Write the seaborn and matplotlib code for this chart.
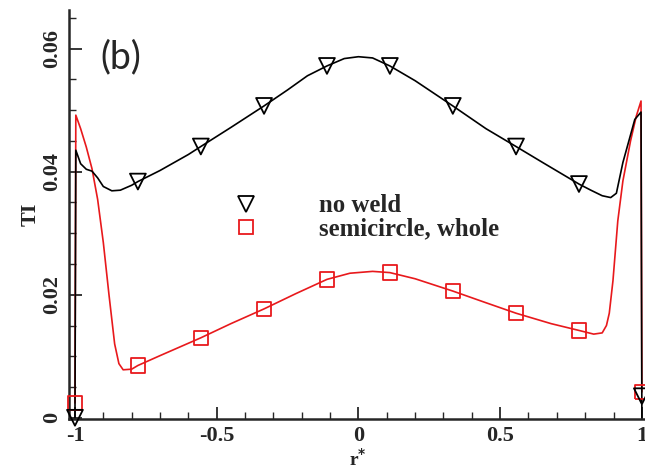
import matplotlib
matplotlib.use('Agg')
import matplotlib.pyplot as plt
from matplotlib.lines import Line2D
from matplotlib.ticker import MultipleLocator
import pandas as pd
import seaborn as sns

# curve
r_noweld = [-1.0, -0.997, -0.98, -0.96, -0.94, -0.92, -0.90, -0.87, -0.84, -0.80,
            -0.778, -0.70, -0.60, -0.556, -0.45, -0.333, -0.25, -0.18, -0.111, -0.05,
            0.0, 0.05, 0.111, 0.2, 0.333, 0.45, 0.556, 0.65, 0.778, 0.82,
            0.86, 0.89, 0.91, 0.933, 0.96, 0.975, 0.997, 1.0]
ti_noweld = [0.0, 0.0435, 0.0413, 0.0404, 0.0401, 0.0390, 0.0376, 0.0369, 0.0370, 0.0378,
             0.0384, 0.0402, 0.0428, 0.0441, 0.0472, 0.0507, 0.0533, 0.0556, 0.0572, 0.0584,
             0.0587, 0.0585, 0.0572, 0.0548, 0.0507, 0.0470, 0.0441, 0.0415, 0.0380, 0.0370,
             0.0361, 0.0358, 0.0365, 0.0415, 0.0460, 0.0485, 0.0497, 0.0]

r_semi = [-1.0, -0.997, -0.98, -0.96, -0.94, -0.92, -0.90, -0.88, -0.86, -0.845,
          -0.83, -0.80, -0.778, -0.70, -0.556, -0.45, -0.333, -0.22, -0.111, -0.03,
          0.05, 0.111, 0.2, 0.333, 0.45, 0.556, 0.68, 0.778, 0.83, 0.86,
          0.875, 0.885, 0.898, 0.915, 0.933, 0.96, 0.98, 0.997, 1.0]
ti_semi = [0.0024, 0.0492, 0.0470, 0.0440, 0.0405, 0.0355, 0.0285, 0.0200, 0.0120, 0.0088,
           0.0078, 0.0079, 0.0085, 0.0101, 0.0130, 0.0153, 0.0177, 0.0202, 0.0225, 0.0235,
           0.0238, 0.0236, 0.0226, 0.0206, 0.0187, 0.0170, 0.0153, 0.0142, 0.0136, 0.0138,
           0.0150, 0.0170, 0.0223, 0.0320, 0.0385, 0.0450, 0.0490, 0.0515, 0.0042]

# symbols
r_marks = [-1.0, -0.778, -0.556, -0.333, -0.111, 0.111, 0.333, 0.556, 0.778, 1.0]
ti_marks_noweld = [0.0, 0.0384, 0.0441, 0.0507, 0.0572, 0.0572, 0.0507, 0.0441, 0.0380, 0.0035]
ti_marks_semi = [0.0024, 0.0085, 0.0130, 0.0177, 0.0225, 0.0236, 0.0206, 0.0170, 0.0142, 0.0042]

labels = ['no weld', 'semicircle, whole']
colors = ['black', '#e8191c']

sns.set_style('ticks')
plt.rcParams['font.family'] = ['Liberation Serif', 'DejaVu Serif']
plt.rcParams['font.weight'] = 'bold'

fig = plt.figure(figsize=(6.45, 4.68), dpi=100)
ax = fig.add_axes([0.107, 0.1047, 0.893, 0.874])

semi = pd.DataFrame({'r': r_semi, 'TI': ti_semi})
noweld = pd.DataFrame({'r': r_noweld, 'TI': ti_noweld})
sns.lineplot(data=semi, x='r', y='TI', sort=False, estimator=None,
             color=colors[1], linewidth=1.2, ax=ax)
sns.lineplot(data=noweld, x='r', y='TI', sort=False, estimator=None,
             color=colors[0], linewidth=1.2, ax=ax)

sns.scatterplot(x=r_marks, y=ti_marks_semi, marker='s', s=110, facecolor='none',
                edgecolor=colors[1], linewidth=1.3, ax=ax, clip_on=False, zorder=5)
sns.scatterplot(x=r_marks, y=ti_marks_noweld, marker='v', s=130, facecolor='none',
                edgecolor=colors[0], linewidth=1.3, ax=ax, clip_on=False, zorder=5)

ax.set_xlim(-1.021, 1.011)
ax.set_ylim(-0.0002, 0.0663)
ax.xaxis.set_major_locator(MultipleLocator(0.5))
ax.xaxis.set_minor_locator(MultipleLocator(0.1))
ax.yaxis.set_major_locator(MultipleLocator(0.02))
ax.yaxis.set_minor_locator(MultipleLocator(0.005))
ax.set_xticks([-1, -0.5, 0, 0.5, 1])
ax.set_xticklabels(['-1', '-0.5', '0', '0.5', '1'])
ax.set_yticks([0, 0.02, 0.04, 0.06])
ax.set_yticklabels(['0', '0.02', '0.04', '0.06'], rotation=90, va='center')
ax.tick_params(which='major', direction='in', length=9, width=1.3, labelsize=16)
ax.tick_params(axis='x', which='major', pad=5)
ax.tick_params(axis='y', which='major', pad=5)
ax.tick_params(which='minor', direction='in', length=5, width=1.0)
for s in ['top', 'right']:
    ax.spines[s].set_visible(False)
for s in ['left', 'bottom']:
    ax.spines[s].set_linewidth(1.8)

ax.set_xlabel(r'r$^{*}$', fontsize=14, fontweight='bold')
ax.xaxis.set_label_coords(0.502, -0.071)
ax.set_ylabel('TI', fontsize=16, fontweight='bold')
ax.yaxis.set_label_coords(-0.050, 0.5)

handles = [Line2D([], [], linestyle='none', marker='v', markersize=11, markerfacecolor='none',
                  markeredgecolor=colors[0], markeredgewidth=1.3),
           Line2D([], [], linestyle='none', marker='s', markersize=10, markerfacecolor='none',
                  markeredgecolor=colors[1], markeredgewidth=1.3)]
ax.legend(handles, labels, loc='upper left', bbox_to_anchor=(0.226, 0.604), frameon=False,
          prop={'family': 'Liberation Serif', 'weight': 'bold', 'size': 17.8},
          handletextpad=1.96, labelspacing=0.0)

fig.text(0.155, 0.855, '(b)', fontsize=27, family=['Lato', 'DejaVu Sans'],
         fontweight='normal', va='baseline')

fig.savefig('out.png', dpi=100)
